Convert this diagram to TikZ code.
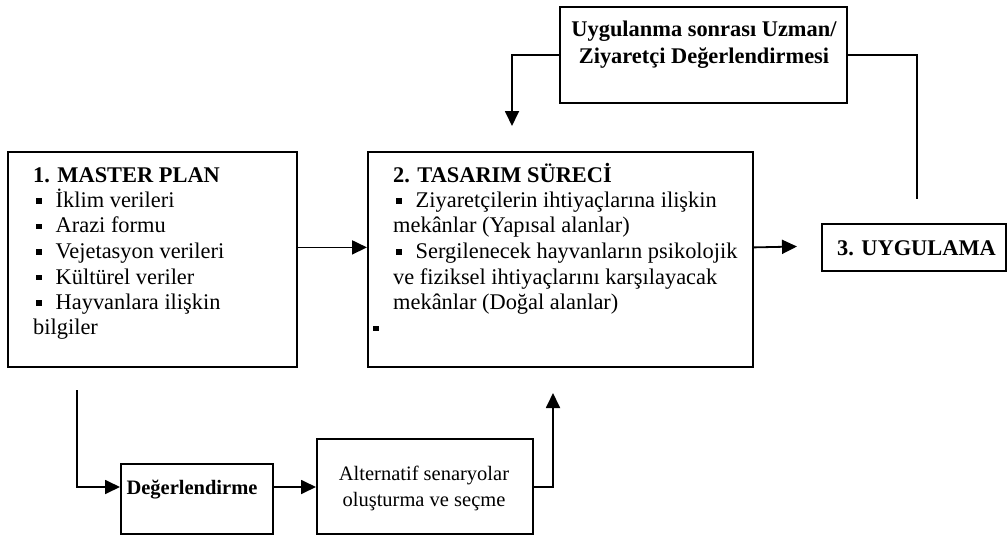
\documentclass[tikz,border=0pt]{standalone}
\usepackage{fontspec}
\setmainfont{Liberation Serif}
\usetikzlibrary{arrows.meta}
\newcommand{\sqbul}{\raisebox{4pt}{\rule{5.5pt}{5.5pt}}}
\newcommand{\bul}{\hspace*{3pt}\sqbul\hspace{14pt}}
\begin{document}
\begin{tikzpicture}[x=1pt,y=-1pt,
  box/.style={draw, line width=1.8pt, inner sep=0pt, anchor=north west},
  conn/.style={line width=1.8pt},
  arr/.style={conn, -{Triangle[length=15pt,width=14pt]}},
  txt/.style={inner sep=0pt, font=\fontsize{22.4}{25.5}\selectfont},
  stxt/.style={inner sep=0pt, font=\fontsize{20.5}{26}\selectfont}]
\useasboundingbox (0,0) rectangle (1007,535);
% boxes
\node[box, minimum width=289pt, minimum height=215pt] (b1) at (7,151) {};
\node[box, minimum width=385pt, minimum height=215pt] (b2) at (367,151) {};
\node[box, minimum width=287pt, minimum height=96pt] (top) at (559,6) {};
\node[box, minimum width=184pt, minimum height=47pt] (b3) at (821,223) {};
\node[box, minimum width=152pt, minimum height=70pt] (deg) at (120,463) {};
\node[box, minimum width=216pt, minimum height=95pt] (alt) at (316,438) {};
% texts
\node[txt, anchor=base west] (t1) at (33,182) {\parbox[t]{260pt}{\raggedright
\textbf{1. MASTER PLAN}\\
\bul İklim verileri\\
\bul Arazi formu\\
\bul Vejetasyon verileri\\
\bul Kültürel veriler\\
\bul Hayvanlara ilişkin\\
bilgiler}};
\node[txt, anchor=base west] (t2) at (393,182) {\parbox[t]{355pt}{\raggedright
\textbf{2. TASARIM SÜRECİ}\\
\bul Ziyaretçilerin ihtiyaçlarına ilişkin\\
mekânlar (Yapısal alanlar)\\
\bul Sergilenecek hayvanların psikolojik\\
ve fiziksel ihtiyaçlarını karşılayacak\\
mekânlar (Doğal alanlar)\\
\hspace*{-20pt}\sqbul}};
\node[txt, anchor=base, font=\fontsize{22.4}{26.5}\selectfont\bfseries] (tt) at (704,37) {\parbox[t]{285pt}{\centering
Uygulanma sonrası Uzman/\\Ziyaretçi Değerlendirmesi}};
\node[txt, anchor=base west, font=\fontsize{22.4}{25.5}\selectfont\bfseries] (t3) at (837,255) {3. UYGULAMA};
\node[stxt, anchor=base, font=\fontsize{20.5}{26}\selectfont\bfseries] (td) at (192,494) {Değerlendirme};
\node[stxt, anchor=base] (ta) at (424,480) {\parbox[t]{210pt}{\centering
Alternatif senaryolar\\oluşturma ve seçme}};
% connectors
\coordinate (fbL) at (512,126);
\coordinate (fbR) at (917,199);
\coordinate (a3) at (797,246.5);
\coordinate (s1) at (77,390);
\coordinate (m) at (0,487);
\coordinate (e2) at (553,393);
\draw[arr] (top.west) -| (fbL);
\draw[conn] (top.east) -| (fbR);
\draw[arr] (b1.east |- b3.west) -- (b2.west |- b3.west);
\draw[arr] (b2.east |- b3.west) -- (a3);
\draw[arr] (s1) |- (deg.west |- m);
\draw[arr] (deg.east |- m) -- (alt.west |- m);
\draw[arr] (alt.east |- m) -| (e2);
\end{tikzpicture}
\end{document}
